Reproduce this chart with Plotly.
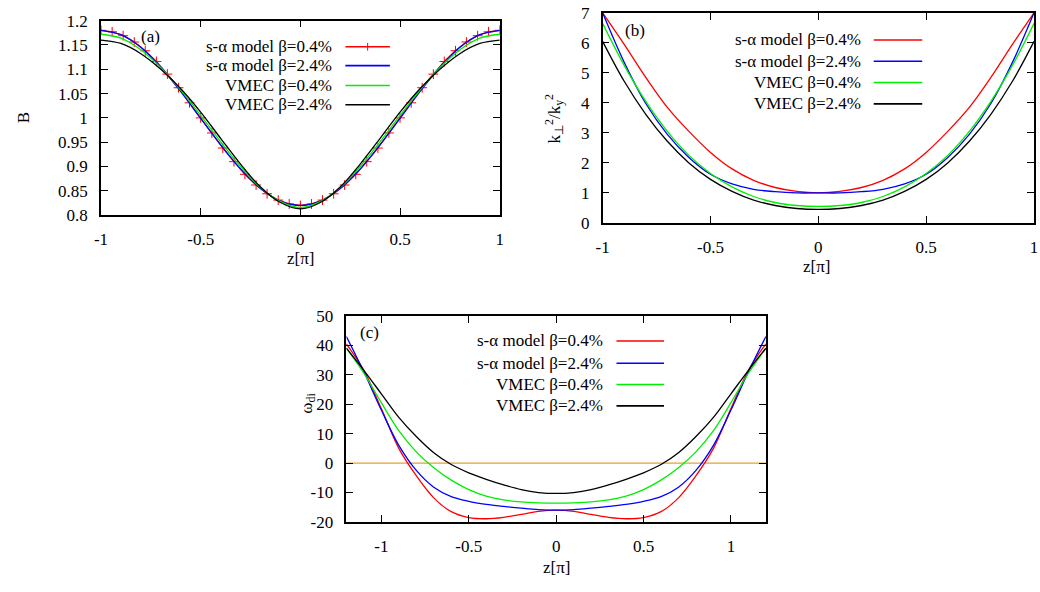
import plotly.graph_objects as go

# ---------------- data ----------------
# panel (a): B vs z[pi]
z_a_red = [-1.0, -0.944, -0.889, -0.833, -0.778, -0.722, -0.667, -0.611, -0.556, -0.5,
           -0.444, -0.389, -0.333, -0.278, -0.222, -0.167, -0.111, -0.056, 0.0,
           0.056, 0.111, 0.167, 0.222, 0.278, 0.333, 0.389, 0.444, 0.5,
           0.556, 0.611, 0.667, 0.722, 0.778, 0.833, 0.889, 0.944, 1.0]
B_sa_04 = [1.180, 1.177, 1.169, 1.156, 1.138, 1.116, 1.090, 1.062, 1.031, 1.000,
           0.969, 0.938, 0.910, 0.884, 0.862, 0.844, 0.831, 0.823, 0.820,
           0.823, 0.831, 0.844, 0.862, 0.884, 0.910, 0.938, 0.969, 1.000,
           1.031, 1.062, 1.090, 1.116, 1.138, 1.156, 1.169, 1.177, 1.180]

z_ab = [-1.0, -0.9, -0.8, -0.7, -0.6, -0.5, -0.4, -0.3, -0.2, -0.1, 0.0,
        0.1, 0.2, 0.3, 0.4, 0.5, 0.6, 0.7, 0.8, 0.9, 1.0]
B_sa_24 = [1.180, 1.171, 1.145, 1.104, 1.054, 0.999, 0.945, 0.895, 0.855, 0.829, 0.820,
           0.829, 0.855, 0.895, 0.945, 0.999, 1.054, 1.104, 1.145, 1.171, 1.180]
B_vm_04 = [1.172, 1.164, 1.140, 1.103, 1.057, 1.005, 0.951, 0.900, 0.857, 0.828, 0.816,
           0.828, 0.857, 0.900, 0.951, 1.005, 1.057, 1.103, 1.140, 1.164, 1.172]
B_vm_24 = [1.160, 1.153, 1.132, 1.100, 1.060, 1.012, 0.958, 0.905, 0.858, 0.826, 0.813,
           0.826, 0.858, 0.905, 0.958, 1.012, 1.060, 1.100, 1.132, 1.153, 1.160]

# panel (b): k_perp^2 / k_y^2
K_sa_04 = [7.0, 5.95, 4.85, 3.85, 3.05, 2.35, 1.8, 1.42, 1.18, 1.05, 1.0,
           1.05, 1.18, 1.42, 1.8, 2.35, 3.05, 3.85, 4.85, 5.95, 7.0]
K_sa_24 = [7.0, 5.35, 3.98, 2.95, 2.18, 1.62, 1.3, 1.12, 1.04, 1.0, 1.0,
           1.0, 1.04, 1.12, 1.3, 1.62, 2.18, 2.95, 3.98, 5.35, 7.0]
K_vm_04 = [6.65, 5.25, 4.05, 3.05, 2.25, 1.65, 1.2, 0.88, 0.68, 0.58, 0.55,
           0.58, 0.68, 0.88, 1.2, 1.65, 2.25, 3.05, 4.05, 5.25, 6.65]
K_vm_24 = [6.05, 4.72, 3.62, 2.72, 2.0, 1.45, 1.05, 0.76, 0.58, 0.48, 0.45,
           0.48, 0.58, 0.76, 1.05, 1.45, 2.0, 2.72, 3.62, 4.72, 6.05]

# panel (c): omega_di
z_c = [-1.2, -1.1, -1.0, -0.9, -0.8, -0.7, -0.6, -0.5, -0.4, -0.3, -0.2, -0.1, 0.0,
       0.1, 0.2, 0.3, 0.4, 0.5, 0.6, 0.7, 0.8, 0.9, 1.0, 1.1, 1.2]
W_sa_04 = [40.5, 31.5, 18.5, 5.0, -4.3, -11.8, -16.5, -18.5, -18.9, -18.4, -17.4, -16.4, -16.0,
           -16.4, -17.4, -18.4, -18.9, -18.5, -16.5, -11.8, -4.3, 5.0, 18.5, 31.5, 40.5]
W_sa_24 = [43.0, 31.0, 18.0, 6.0, -2.5, -8.2, -11.4, -13.0, -14.0, -14.7, -15.3, -15.8, -16.0,
           -15.8, -15.3, -14.7, -14.0, -13.0, -11.4, -8.2, -2.5, 6.0, 18.0, 31.0, 43.0]
W_vm_04 = [39.0, 30.5, 20.5, 11.0, 3.8, -1.6, -5.8, -9.0, -11.2, -12.5, -13.2, -13.5, -13.6,
           -13.5, -13.2, -12.5, -11.2, -9.0, -5.8, -1.6, 3.8, 11.0, 20.5, 30.5, 39.0]
W_vm_24 = [39.0, 31.5, 23.5, 15.5, 9.0, 3.5, -0.5, -3.3, -5.5, -7.4, -9.0, -10.0, -10.3,
           -10.0, -9.0, -7.4, -5.5, -3.3, -0.5, 3.5, 9.0, 15.5, 23.5, 31.5, 39.0]
zero_x = [-1.2, 1.2]
zero_y = [0, 0]

series_names = ["s-α model β=0.4%", "s-α model β=2.4%", "VMEC β=0.4%", "VMEC β=2.4%"]
colors = ["#ff0000", "#0000ff", "#00ee00", "#000000"]

xt_vals = [-1, -0.5, 0, 0.5, 1]
xt_text = ["-1", "-0.5", "0", "0.5", "1"]
ya_vals = [0.8, 0.85, 0.9, 0.95, 1.0, 1.05, 1.1, 1.15, 1.2]
ya_text = ["0.8", "0.85", "0.9", "0.95", "1", "1.05", "1.1", "1.15", "1.2"]
yb_vals = [0, 1, 2, 3, 4, 5, 6, 7]
yb_text = ["0", "1", "2", "3", "4", "5", "6", "7"]
yc_vals = [-20, -10, 0, 10, 20, 30, 40, 50]
yc_text = ["-20", "-10", "0", "10", "20", "30", "40", "50"]

# ---------------- figure ----------------
W, H = 1040, 592
FONT = "Liberation Serif"


def fx(x):
    return x / W


def fy(y):
    return 1 - y / H


fig = go.Figure()
LW = 1.3

# (a)
fig.add_trace(go.Scatter(x=z_a_red, y=B_sa_04, mode="lines+markers", line=dict(color=colors[0], width=LW),
                         marker=dict(symbol="cross-thin", size=7, line=dict(color=colors[0], width=1)),
                         xaxis="x", yaxis="y", showlegend=False))
for yv, c in zip([B_sa_24, B_vm_04, B_vm_24], colors[1:]):
    fig.add_trace(go.Scatter(x=z_ab, y=yv, mode="lines", line=dict(color=c, width=LW, shape="spline"),
                             xaxis="x", yaxis="y", showlegend=False))
# (b)
for yv, c in zip([K_sa_04, K_sa_24, K_vm_04, K_vm_24], colors):
    fig.add_trace(go.Scatter(x=z_ab, y=yv, mode="lines", line=dict(color=c, width=LW, shape="spline"),
                             xaxis="x2", yaxis="y2", showlegend=False))
# (c)
fig.add_trace(go.Scatter(x=zero_x, y=zero_y, mode="lines", line=dict(color="#e6a030", width=1.3),
                         xaxis="x3", yaxis="y3", showlegend=False))
for yv, c in zip([W_sa_04, W_sa_24, W_vm_04, W_vm_24], colors):
    fig.add_trace(go.Scatter(x=z_c, y=yv, mode="lines", line=dict(color=c, width=LW, shape="spline"),
                             xaxis="x3", yaxis="y3", showlegend=False))

axis_common = dict(showline=True, mirror="ticks", linecolor="black", linewidth=1.5,
                   ticks="inside", ticklen=7, tickwidth=1, tickcolor="black",
                   showgrid=False, zeroline=False, tickfont=dict(family=FONT, size=17, color="black"),
                   ticklabelstandoff=8)

fig.update_layout(
    width=W, height=H, autosize=False,
    margin=dict(l=0, r=0, t=0, b=0),
    paper_bgcolor="white", plot_bgcolor="white",
    font=dict(family=FONT, size=17, color="black"),
    xaxis=dict(domain=[fx(95), fx(498)], range=[-1, 1], tickvals=xt_vals, ticktext=xt_text, anchor="y", **axis_common),
    yaxis=dict(domain=[fy(213), fy(12)], range=[0.8, 1.2], tickvals=ya_vals, ticktext=ya_text, anchor="x", **axis_common),
    xaxis2=dict(domain=[fx(602), fx(1038)], range=[-1, 1], tickvals=xt_vals, ticktext=xt_text, anchor="y2", **axis_common),
    yaxis2=dict(domain=[fy(221), fy(4)], range=[0, 7], tickvals=yb_vals, ticktext=yb_text, anchor="x2", **axis_common),
    xaxis3=dict(domain=[fx(343), fx(767)], range=[-1.2, 1.2], tickvals=xt_vals, ticktext=xt_text, anchor="y3", **axis_common),
    yaxis3=dict(domain=[fy(530), fy(317)], range=[-20, 50], tickvals=yc_vals, ticktext=yc_text, anchor="x3", **axis_common),
)

ann = []
shapes = []


def text(x, y, s, xanchor="center", angle=0, size=17):
    ann.append(dict(x=fx(x), y=fy(y), xref="paper", yref="paper", text=s, showarrow=False,
                    xanchor=xanchor, yanchor="middle", textangle=angle,
                    font=dict(family=FONT, size=size, color="black")))


def legend(text_right, x0, x1, rows, red_marker=False):
    for i, (name, c, yy) in enumerate(zip(series_names, colors, rows)):
        text(text_right, yy, name, xanchor="right")
        shapes.append(dict(type="line", xref="paper", yref="paper", x0=fx(x0), x1=fx(x1),
                           y0=fy(yy), y1=fy(yy), line=dict(color=c, width=1.6)))
        if red_marker and i == 0:
            xm = (x0 + x1) / 2
            shapes.append(dict(type="line", xref="paper", yref="paper", x0=fx(xm), x1=fx(xm),
                               y0=fy(yy - 4), y1=fy(yy + 4), line=dict(color=c, width=1)))


# legends
legend(330, 342, 387, [39, 58.5, 79, 99], red_marker=True)
legend(865, 876, 925, [32, 54, 76, 98])
legend(604, 616, 664, [343, 366, 388, 410])

# panel labels
text(145, 28, "(a)")
text(635, 22, "(b)")
text(366, 334, "(c)")

# axis titles
text(297, 258, "z[π]")
text(818, 266, "z[π]")
text(555, 577, "z[π]")
text(17, 112, "B", angle=-90)
text(553, 113, "k<sub>⊥</sub><sup>2</sup>/k<sub>y</sub><sup>2</sup>", angle=-90)
text(304, 407, "ω<sub>di</sub>", angle=-90)

fig.update_layout(annotations=ann, shapes=shapes)

fig.write_html("out.html")
